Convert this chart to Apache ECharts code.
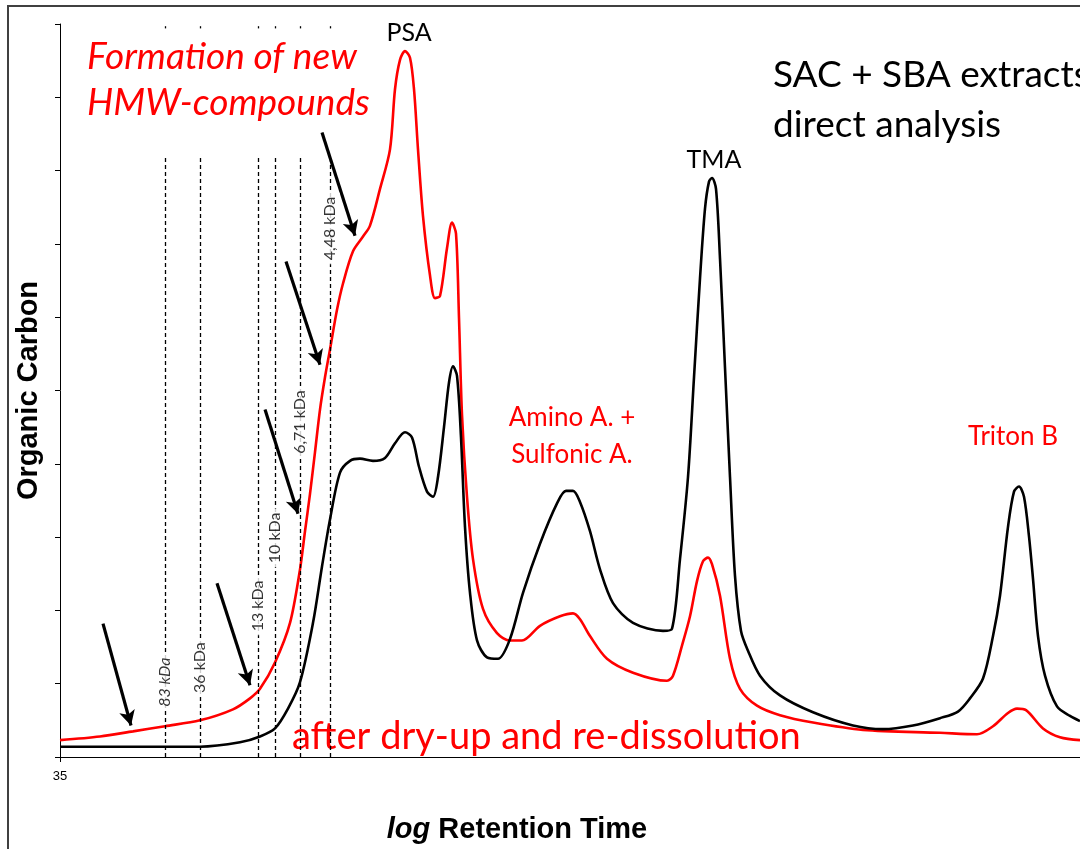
<!DOCTYPE html>
<html>
<head>
<meta charset="utf-8">
<script src="https://cdn.jsdelivr.net/npm/echarts@6/dist/echarts.min.js"></script>
<style>
  html, body { margin: 0; padding: 0; background: #fff; }
  #chart { width: 1080px; height: 849px; }
</style>
</head>
<body>
<div id="chart"></div>
<script>
// x: retention time (log), y: organic carbon signal (relative units)
const directAnalysis = [
  [35, 1.4], [42, 1.4], [44, 2.0], [45, 2.8], [45.75, 3.9], [46.4, 6.6], [47, 10.2],
  [47.65, 18.3], [48.1, 26.0], [48.5, 32.4], [49, 38.8], [49.5, 40.4], [50, 40.7],
  [50.65, 40.4], [51.25, 40.8], [51.75, 42.8], [52.25, 44.3], [52.6, 43.6], [52.95, 39.6],
  [53.35, 36.2], [53.65, 35.5], [53.9, 38.2], [54.2, 45.0], [54.45, 51.1], [54.65, 53.3],
  [54.85, 52.0], [55.05, 43.6], [55.25, 31.4], [55.5, 22.4], [55.85, 15.9], [56.35, 13.6],
  [56.9, 13.4], [57.5, 16.1], [58.15, 22.4], [59, 29.1], [59.85, 34.6], [60.3, 36.3],
  [60.65, 36.3], [61, 34.8], [61.5, 30.8], [62, 25.6], [62.65, 21.0], [63.65, 18.3],
  [65.15, 17.2], [65.6, 17.5], [66, 27.0], [66.4, 38.2], [66.7, 51.8], [67, 65.3],
  [67.25, 74.8], [67.45, 78.5], [67.6, 79.0], [67.8, 77.5], [68, 68.0], [68.25, 53.1],
  [68.5, 38.2], [68.75, 24.7], [69.05, 17.2], [69.4, 14.5], [70, 11.1], [71, 8.4],
  [72.65, 6.1], [74.65, 4.3], [76.15, 3.8], [77.65, 4.3], [79, 5.3], [79.9, 6.2],
  [80.5, 8.0], [81.15, 10.7], [81.65, 16.5], [82, 22.0], [82.4, 31.4], [82.7, 36.2],
  [82.95, 36.9], [83.2, 35.5], [83.45, 30.1], [83.65, 24.3], [83.9, 16.5], [84.25, 11.1],
  [84.85, 6.9], [85.5, 5.6], [86, 4.9]
];

const afterRedissolution = [
  [35, 2.3], [37, 2.8], [38.65, 3.5], [40.25, 4.2], [42, 5.0], [43.65, 6.5], [44.5, 8.0],
  [45, 9.3], [45.75, 12.9], [46.5, 18.3], [47, 25.6], [47.25, 30.8], [47.5, 35.9],
  [47.75, 41.6], [48, 47.4], [48.25, 51.8], [48.5, 55.6], [48.85, 61.0], [49.15, 64.6],
  [49.65, 69.0], [50.15, 71.0], [50.5, 72.5], [51, 77.5], [51.5, 82.9], [51.75, 91.1],
  [52, 95.1], [52.25, 96.3], [52.5, 95.4], [52.7, 91.1], [52.9, 82.9], [53.15, 73.8],
  [53.5, 65.7], [53.75, 62.6], [54, 62.9], [54.35, 69.4], [54.6, 72.9], [54.8, 71.4],
  [54.95, 59.9], [55.1, 46.7], [55.35, 35.5], [55.65, 27.0], [56.15, 20.2], [56.85, 16.9],
  [57.5, 15.9], [58.1, 15.9], [59, 17.9], [60, 19.2], [60.65, 19.6], [61, 18.8],
  [61.5, 16.5], [62.35, 13.4], [63.65, 11.5], [65.35, 10.4], [65.65, 11.1], [66.1, 15.2],
  [66.5, 19.2], [66.85, 24.0], [67.15, 26.7], [67.4, 27.2], [67.6, 26.3], [68, 22.0],
  [68.5, 13.4], [69, 9.3], [69.85, 7.0], [71, 5.7], [72.65, 4.7], [75.15, 3.7], [79, 3.3],
  [80.85, 3.1], [81.65, 4.2], [82.4, 6.0], [82.85, 6.6], [83.3, 6.4], [84.15, 3.9],
  [85, 2.7], [86, 2.3]
];

// molecular weight calibration markers: position, label height, text
const mwPositions = [40.25, 42, 44.9, 45.75, 47, 48.5];
const mwLabelY = [10.2, 12.2, 20.6, 29.9, 45.7, 72.1];
const mwLabels = ['83 kDa', '36 kDa', '13 kDa', '10 kDa', '6,71 kDa', '4,48 kDa'];
const mwTop = 82;

// annotation arrows: [x0, y0, x1, y1]
const arrows = [
  [37.15, 18.2, 38.55, 4.3],
  [42.85, 23.7, 44.5, 9.8],
  [45.25, 47.4, 46.9, 33.2],
  [46.3, 67.6, 48, 53.5],
  [48.1, 85.2, 49.75, 71.1]
];

const xTicks = [35];

const chart = echarts.init(document.getElementById('chart'));

const calloutFont = 'Lato, "Open Sans", sans-serif';
const arialFont = '"Liberation Sans", Arial, sans-serif';

const option = {
  animation: false,
  backgroundColor: '#fff',
  grid: { left: 60, right: 0, top: 24, bottom: 87 },
  xAxis: {
    type: 'value',
    min: 35,
    max: 86,
    name: '{i|log} Retention Time',
    nameLocation: 'middle',
    nameGap: 58,
    nameTextStyle: {
      fontFamily: arialFont,
      fontWeight: 'bold',
      fontSize: 29,
      color: '#000',
      padding: [0, 106, 0, 0],
      rich: {
        i: {
          fontFamily: arialFont,
          fontWeight: 'bold',
          fontStyle: 'italic',
          fontSize: 29,
          color: '#000'
        }
      }
    },
    axisLine: { show: true, lineStyle: { color: '#000', width: 1 } },
    axisTick: { show: true, customValues: xTicks, length: 5, lineStyle: { color: '#000' } },
    axisLabel: {
      customValues: xTicks,
      color: '#000',
      fontSize: 13,
      fontFamily: arialFont,
      margin: 13
    },
    splitLine: { show: false }
  },
  yAxis: {
    type: 'value',
    min: 0,
    max: 100,
    interval: 10,
    name: 'Organic Carbon',
    nameLocation: 'middle',
    nameGap: 17,
    nameTextStyle: {
      fontFamily: arialFont,
      fontWeight: 'bold',
      fontSize: 29,
      color: '#000'
    },
    axisLine: { show: true, lineStyle: { color: '#000', width: 1 } },
    axisTick: { show: true, length: 5, lineStyle: { color: '#000' } },
    axisLabel: { show: false },
    splitLine: { show: false }
  },
  graphic: [
    {
      type: 'rect',
      shape: { x: 8, y: 6, width: 1200, height: 1000 },
      style: { fill: 'none', stroke: '#404040', lineWidth: 2 },
      silent: true
    },
    {
      type: 'text', x: 87, y: 57,
      style: { text: 'Formation of new', font: 'italic 37px ' + calloutFont, fill: '#ff0000', verticalAlign: 'middle' }
    },
    {
      type: 'text', x: 87, y: 103,
      style: { text: 'HMW-compounds', font: 'italic 37px ' + calloutFont, fill: '#ff0000', verticalAlign: 'middle' }
    },
    {
      type: 'text', x: 773, y: 75,
      style: { text: 'SAC + SBA extracts', font: '37px ' + calloutFont, fill: '#000', verticalAlign: 'middle' }
    },
    {
      type: 'text', x: 773, y: 125,
      style: { text: 'direct analysis', font: '37px ' + calloutFont, fill: '#000', verticalAlign: 'middle' }
    },
    {
      type: 'text', x: 409, y: 33,
      style: { text: 'PSA', font: '25px ' + calloutFont, fill: '#000', align: 'center', verticalAlign: 'middle' }
    },
    {
      type: 'text', x: 714, y: 160,
      style: { text: 'TMA', font: '25px ' + calloutFont, fill: '#000', align: 'center', verticalAlign: 'middle' }
    },
    {
      type: 'text', x: 572, y: 418,
      style: { text: 'Amino A. +', font: '26px ' + calloutFont, fill: '#ff0000', align: 'center', verticalAlign: 'middle' }
    },
    {
      type: 'text', x: 572, y: 455,
      style: { text: 'Sulfonic A.', font: '26px ' + calloutFont, fill: '#ff0000', align: 'center', verticalAlign: 'middle' }
    },
    {
      type: 'text', x: 1013, y: 437,
      style: { text: 'Triton B', font: '26px ' + calloutFont, fill: '#ff0000', align: 'center', verticalAlign: 'middle' }
    },
    {
      type: 'text', x: 292, y: 737,
      style: { text: 'after dry-up and re-dissolution', font: '38px ' + calloutFont, fill: '#ff0000', verticalAlign: 'middle' }
    }
  ],
  series: [
    {
      name: 'MW markers',
      type: 'line',
      data: [],
      markLine: {
        silent: true,
        symbol: ['none', 'none'],
        label: { show: false },
        lineStyle: { color: '#000', type: [4, 3], width: 1.3 },
        data: mwPositions.map(x => [{ coord: [x, 0] }, { coord: [x, mwTop] }])
          .concat(mwPositions.map(x => [{ coord: [x, 99.4] }, { coord: [x, 99.7] }]))
      }
    },
    {
      name: 'MW labels',
      type: 'scatter',
      symbolSize: 0,
      z: 5,
      data: mwPositions.map((x, i) => ({
        value: [x, mwLabelY[i], mwLabels[i]],
        label: { fontStyle: i === 0 ? 'italic' : 'normal' }
      })),
      label: {
        show: true,
        position: 'inside',
        rotate: 90,
        formatter: p => p.data.value[2],
        color: '#000',
        fontSize: 16,
        fontFamily: calloutFont,
        backgroundColor: '#fff',
        padding: [2, 4]
      },
      labelLayout: { hideOverlap: false }
    },
    {
      name: 'after dry-up and re-dissolution',
      type: 'line',
      data: afterRedissolution,
      smooth: 0.3,
      symbol: 'none',
      z: 3,
      lineStyle: { color: '#ff0000', width: 2.6 }
    },
    {
      name: 'direct analysis',
      type: 'line',
      data: directAnalysis,
      smooth: 0.3,
      symbol: 'none',
      z: 3,
      lineStyle: { color: '#000', width: 2.6 }
    },
    {
      name: 'arrows',
      type: 'line',
      data: [],
      markLine: {
        silent: true,
        symbol: ['none', 'arrow'],
        symbolSize: [12, 15],
        label: { show: false },
        lineStyle: { color: '#000', type: 'solid', width: 3.2 },
        itemStyle: { color: '#000' },
        data: arrows.map(a => [{ coord: [a[0], a[1]] }, { coord: [a[2], a[3]] }])
      }
    }
  ]
};

chart.setOption(option);
window.addEventListener('resize', function () {
  chart.resize();
});
</script>
</body>
</html>
